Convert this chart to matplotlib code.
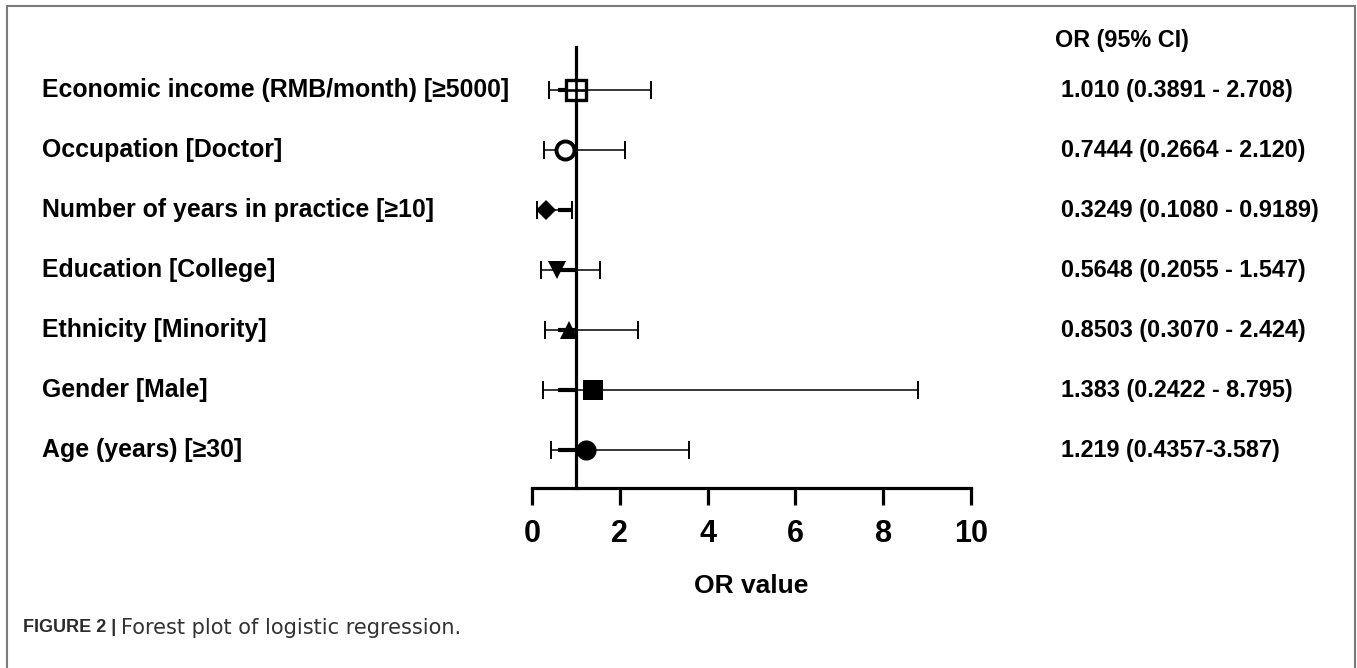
import matplotlib
matplotlib.use("Agg")
import matplotlib.pyplot as plt
import matplotlib.patches as patches
from matplotlib.transforms import blended_transform_factory

plt.rcParams['font.family'] = ['Liberation Sans', 'DejaVu Sans']

labels = [
    "Economic income (RMB/month) [≥5000]",
    "Occupation [Doctor]",
    "Number of years in practice [≥10]",
    "Education [College]",
    "Ethnicity [Minority]",
    "Gender [Male]",
    "Age (years) [≥30]",
]
odds = [1.010, 0.7444, 0.3249, 0.5648, 0.8503, 1.383, 1.219]
ci_low = [0.3891, 0.2664, 0.1080, 0.2055, 0.3070, 0.2422, 0.4357]
ci_high = [2.708, 2.120, 0.9189, 1.547, 2.424, 8.795, 3.587]
ci_text = [
    "1.010 (0.3891 - 2.708)",
    "0.7444 (0.2664 - 2.120)",
    "0.3249 (0.1080 - 0.9189)",
    "0.5648 (0.2055 - 1.547)",
    "0.8503 (0.3070 - 2.424)",
    "1.383 (0.2422 - 8.795)",
    "1.219 (0.4357-3.587)",
]
xticks = [0, 2, 4, 6, 8, 10]

W, H = 1357, 668
fig = plt.figure(figsize=(W / 100, H / 100), dpi=100)

# axes placed in pixel terms: x 0..10 -> 532..971, axis line at y=488, top at 47
left, right, bottom, top = 532, 971, 488, 47
ax = fig.add_axes([left / W, 1 - bottom / H, (right - left) / W, (bottom - top) / H])

n = len(labels)
ypos = [n - 1 - i for i in range(n)]
markers = [
    dict(marker='s', ms=14, mfc='white', mec='black', mew=2.4),
    dict(marker='o', ms=13, mfc='white', mec='black', mew=2.8),
    dict(marker='D', ms=10, mfc='black', mec='black', mew=0),
    dict(marker='v', ms=13, mfc='black', mec='black', mew=0),
    dict(marker='^', ms=13, mfc='black', mec='black', mew=0),
    dict(marker='s', ms=14, mfc='black', mec='black', mew=0),
    dict(marker='o', ms=14.5, mfc='black', mec='black', mew=0),
]

for i in range(n):
    y = ypos[i]
    ax.errorbar(odds[i], y, xerr=[[odds[i] - ci_low[i]], [ci_high[i] - odds[i]]],
                fmt='none', ecolor='black', elinewidth=1.1, capsize=6.5,
                capthick=1.4, zorder=2)
    # thicker stub near the reference line, as in the original
    ax.plot([0.6, min(ci_high[i], 1.0)], [y, y], color='black', lw=3, zorder=2,
            solid_capstyle='butt')
    ax.plot(odds[i], y, linestyle='none', zorder=4, **markers[i])
    if i == 0:
        ax.plot(odds[i], y, marker='+', ms=14, mec='black', mew=1.9,
                linestyle='none', zorder=5)

ax.set_xlim(0, 10)
ax.set_ylim(-38 / 60, n - 1 + 43 / 60)

ax.spines['top'].set_visible(False)
ax.spines['right'].set_visible(False)
ax.spines['left'].set_position(('data', 1))
ax.spines['left'].set_linewidth(2.3)
ax.spines['bottom'].set_linewidth(2.3)
ax.spines['bottom'].set_capstyle('projecting')
ax.set_yticks([])
ax.set_xticks(xticks)
ax.set_xticklabels([str(t) for t in xticks], fontsize=22, fontweight='bold')
ax.tick_params(axis='x', direction='out', length=12, width=2.3, pad=10.5)
ax.set_xlabel("OR value", fontsize=19, fontweight='bold', va='center')
ax.xaxis.set_label_coords(0.5, (bottom - 586) / (bottom - top))
ax.patch.set_alpha(0)

# row labels and OR column
tr_left = blended_transform_factory(fig.transFigure, ax.transData)
for i in range(n):
    ax.text(42 / W, ypos[i], labels[i], transform=tr_left, fontsize=17.9,
            fontweight='bold', va='center', ha='left')
    ax.text(1061 / W, ypos[i], ci_text[i], transform=tr_left, fontsize=16.8,
            fontweight='bold', va='center', ha='left')
fig.text(1055 / W, 1 - 40 / H, "OR (95% CI)", fontsize=16.8, fontweight='bold',
         va='center', ha='left')

# outer frame
fig.add_artist(patches.Rectangle((7 / W, -0.05), (1355 - 7) / W, 1.05 - 6 / H,
                                 transform=fig.transFigure, fill=False,
                                 edgecolor='#7a7a7a', lw=1.5))

# caption
cap1 = fig.text(23 / W, 1 - 628 / H, "FIGURE 2 |", fontsize=13,
                fontweight='bold', color='#2b2b2b', va='center', ha='left')
renderer = fig.canvas.get_renderer()
bb = cap1.get_window_extent(renderer=renderer)
fig.text((bb.x1 + 5) / W, 1 - 628 / H, "Forest plot of logistic regression.",
         fontsize=15, family='DejaVu Sans', color='#333333', va='center', ha='left')

fig.savefig("out.png", dpi=100)
